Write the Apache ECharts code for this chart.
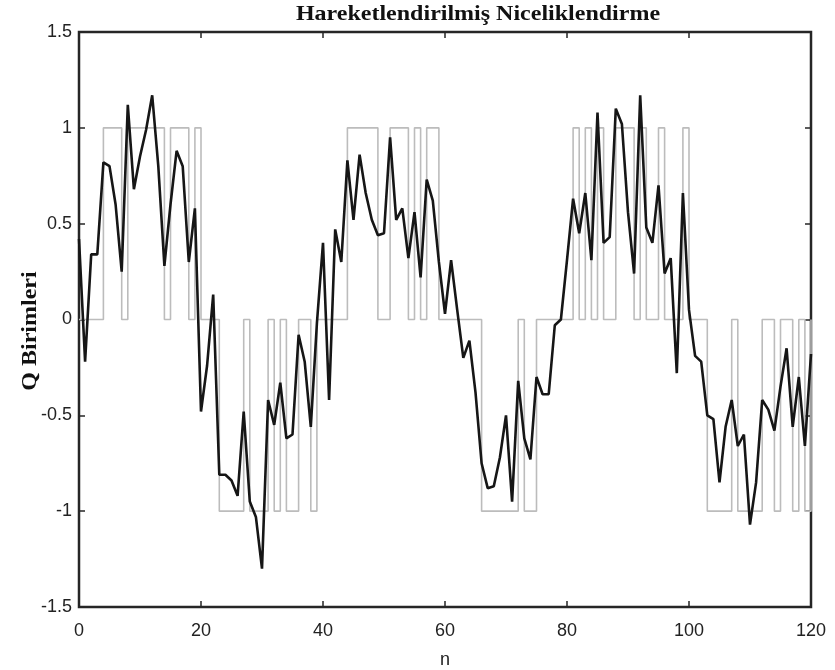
<!DOCTYPE html>
<html>
<head>
<meta charset="utf-8">
<script src="https://cdn.jsdelivr.net/npm/echarts@6/dist/echarts.min.js"></script>
<style>html,body{margin:0;padding:0;background:#fff;}#c{width:835px;height:670px;}</style>
</head>
<body>
<div id="c"></div>
<script>
const titleText = 'Hareketlendirilmiş Niceliklendirme';
const yAxisTitle = 'Q Birimleri';
const xAxisTitle = 'n';
const xTicks = [0, 20, 40, 60, 80, 100, 120];
const yTicks = [-1.5, -1, -0.5, 0, 0.5, 1, 1.5];

// dithered signal (dark line), n = 0..120
const dithered = [
  0.42, -0.22, 0.34, 0.34, 0.82, 0.80, 0.60, 0.25, 1.12, 0.68,
  0.85, 0.99, 1.17, 0.80, 0.28, 0.60, 0.88, 0.80, 0.30, 0.58,
  -0.48, -0.24, 0.13, -0.81, -0.81, -0.84, -0.92, -0.48, -0.95, -1.03,
  -1.30, -0.42, -0.55, -0.33, -0.62, -0.60, -0.08, -0.22, -0.56, -0.02,
  0.40, -0.42, 0.47, 0.30, 0.83, 0.52, 0.86, 0.66, 0.52, 0.44,
  0.45, 0.95, 0.52, 0.58, 0.32, 0.56, 0.22, 0.73, 0.62, 0.30,
  0.03, 0.31, 0.05, -0.20, -0.11, -0.38, -0.75, -0.88, -0.87, -0.72,
  -0.50, -0.95, -0.32, -0.62, -0.73, -0.30, -0.39, -0.39, -0.03, 0.00,
  0.31, 0.63, 0.45, 0.66, 0.31, 1.08, 0.40, 0.43, 1.10, 1.02,
  0.56, 0.24, 1.17, 0.48, 0.40, 0.70, 0.24, 0.32, -0.28, 0.66,
  0.05, -0.19, -0.22, -0.50, -0.52, -0.85, -0.56, -0.42, -0.66, -0.60,
  -1.07, -0.85, -0.42, -0.47, -0.58, -0.35, -0.15, -0.56, -0.30, -0.66,
  -0.18
];

// quantized output (gray stairs), n = 0..120
const quantized = [
  0, 0, 0, 0, 1, 1, 1, 0, 1, 1,
  1, 1, 1, 1, 0, 1, 1, 1, 0, 1,
  0, 0, 0, -1, -1, -1, -1, 0, -1, -1,
  -1, 0, -1, 0, -1, -1, 0, 0, -1, 0,
  0, 0, 0, 0, 1, 1, 1, 1, 1, 0,
  0, 1, 1, 1, 0, 1, 0, 1, 1, 0,
  0, 0, 0, 0, 0, 0, -1, -1, -1, -1,
  -1, -1, 0, -1, -1, 0, 0, 0, 0, 0,
  0, 1, 0, 1, 0, 1, 0, 0, 1, 1,
  1, 0, 1, 0, 0, 1, 0, 0, 0, 1,
  0, 0, 0, -1, -1, -1, -1, 0, -1, -1,
  -1, -1, 0, 0, -1, 0, 0, -1, 0, -1,
  0
];

const darkData = dithered.map((v, i) => [i, v]);
const grayData = quantized.map((v, i) => [i, v]);

const chart = echarts.init(document.getElementById('c'), null, {renderer: 'canvas'});
const axisColor = '#262626';
const labelFont = {fontFamily: '"Liberation Sans", Arial, sans-serif', fontSize: 18, color: '#222'};
const tickStyle = {show: true, inside: true, length: 6, lineStyle: {color: axisColor, width: 1.5}};
const noLine = {show: false, onZero: false};

chart.setOption({
  animation: false,
  backgroundColor: '#ffffff',
  grid: {left: 79, right: 24, top: 32, bottom: 63, show: true, borderColor: axisColor, borderWidth: 2.5, backgroundColor: 'transparent'},
  xAxis: [
    {type: 'value', min: xTicks[0], max: xTicks[xTicks.length - 1], interval: 20, position: 'bottom',
     axisLine: noLine, axisTick: tickStyle, splitLine: {show: false},
     axisLabel: Object.assign({margin: 15}, labelFont)},
    {type: 'value', min: xTicks[0], max: xTicks[xTicks.length - 1], interval: 20, position: 'top',
     axisLine: noLine, axisTick: tickStyle, splitLine: {show: false}, axisLabel: {show: false}}
  ],
  yAxis: [
    {type: 'value', min: yTicks[0], max: yTicks[yTicks.length - 1], interval: 0.5, position: 'left',
     axisLine: noLine, axisTick: tickStyle, splitLine: {show: false},
     axisLabel: Object.assign({margin: 7}, labelFont)},
    {type: 'value', min: yTicks[0], max: yTicks[yTicks.length - 1], interval: 0.5, position: 'right',
     axisLine: noLine, axisTick: tickStyle, splitLine: {show: false}, axisLabel: {show: false}}
  ],
  series: [
    {type: 'line', xAxisIndex: 0, yAxisIndex: 0, data: grayData, step: 'end', showSymbol: false, symbol: 'none',
     lineStyle: {color: '#bcbcbc', width: 1.6}, z: 2},
    {type: 'line', xAxisIndex: 0, yAxisIndex: 0, data: darkData, showSymbol: false, symbol: 'none',
     lineStyle: {color: '#161616', width: 2.6}, z: 3}
  ],
  graphic: [
    {type: 'text', x: 478, y: 15, scaleX: 1.2,
     style: {text: titleText, font: 'bold 20px "Liberation Serif", "Times New Roman", serif', fill: '#111', textAlign: 'center', textVerticalAlign: 'middle'}},
    {type: 'text', x: 31, y: 331, rotation: Math.PI / 2, scaleX: 1.2,
     style: {text: yAxisTitle, font: 'bold 20px "Liberation Serif", "Times New Roman", serif', fill: '#111', textAlign: 'center', textVerticalAlign: 'middle'}},
    {type: 'text', x: 445, y: 660,
     style: {text: xAxisTitle, font: '18px "Liberation Sans", Arial, sans-serif', fill: '#222', textAlign: 'center', textVerticalAlign: 'middle'}}
  ]
});
</script>
</body>
</html>
